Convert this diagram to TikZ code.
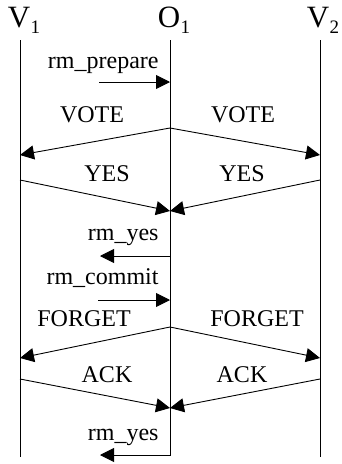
\documentclass[tikz,border=0pt]{standalone}
\usepackage{fontspec}
\setmainfont{Liberation Serif}
\usetikzlibrary{arrows.meta}

\newcommand{\lsub}[2]{#1\rlap{\kern0.5pt\raisebox{-6pt}{\fontsize{19}{19}\selectfont #2}}}

\tikzset{
  msg/.style={-{Triangle[length=14pt,width=14pt]}},
  lbl/.style={font=\fontsize{24}{28}\selectfont, inner sep=0pt},
  head/.style={font=\fontsize{31}{34}\selectfont, inner sep=0pt, anchor=base},
}

\begin{document}
\begin{tikzpicture}[x=1pt, y=-1pt, line width=0.9pt]
\useasboundingbox (0,0) rectangle (341,464);

% processes
\node[head] (v1) at (19,27) {\lsub{V}{1}};
\node[head] (o1) at (169,27) {\lsub{O}{1}};
\node[head] (v2) at (318,27) {\lsub{V}{2}};

\coordinate (v1top) at (20,40);
\coordinate (o1top) at (170,40);
\coordinate (v2top) at (320,40);
\coordinate (v1bot) at (20,457);
\coordinate (o1bot) at (170,455);
\coordinate (v2bot) at (320,457);

\draw (v1top) -- (v1bot);
\draw (v2top) -- (v2bot);

% rm_prepare
\coordinate (prep) at (99,82);
\coordinate (o1prep) at (170,82);
\draw[msg] (prep) -- (o1prep);
\node[lbl, anchor=base east] (lprep) at (159,68) {rm\_prepare};

% VOTE
\coordinate (o1vote) at (170,128);
\coordinate (v1vote) at (20,155);
\coordinate (v2vote) at (320,155);
\draw[msg] (o1vote) -- (v1vote);
\draw[msg] (o1vote) -- (v2vote);
\node[lbl, anchor=base] (lvote1) at (92,122) {VOTE};
\node[lbl, anchor=base] (lvote2) at (243,122) {VOTE};

% YES
\coordinate (v1yes) at (20,180);
\coordinate (v2yes) at (320,180);
\coordinate (o1yes) at (170,211);
\draw[msg] (v1yes) -- (o1yes);
\draw[msg] (v2yes) -- (o1yes);
\node[lbl, anchor=base] (lyes1) at (107,181) {YES};
\node[lbl, anchor=base] (lyes2) at (242,181) {YES};

% rm_yes
\coordinate (o1ryes) at (170,256);
\coordinate (ryes) at (100,256);
\draw[msg] (o1ryes) -- (ryes);
\node[lbl, anchor=base east] (lryes) at (159,240) {rm\_yes};

% rm_commit
\coordinate (commit) at (98,300);
\coordinate (o1commit) at (170,300);
\draw[msg] (commit) -- (o1commit);
\node[lbl, anchor=base east] (lcommit) at (159,284) {rm\_commit};

% FORGET
\coordinate (o1forget) at (170,327);
\coordinate (v1forget) at (20,358);
\coordinate (v2forget) at (320,358);
\draw[msg] (o1forget) -- (v1forget);
\draw[msg] (o1forget) -- (v2forget);
\node[lbl, anchor=base] (lforget1) at (84,326) {FORGET};
\node[lbl, anchor=base] (lforget2) at (257,326) {FORGET};

% ACK
\coordinate (v1ack) at (20,379);
\coordinate (v2ack) at (320,379);
\coordinate (o1ack) at (170,408);
\draw[msg] (v1ack) -- (o1ack);
\draw[msg] (v2ack) -- (o1ack);
\node[lbl, anchor=base] (lack1) at (107,382) {ACK};
\node[lbl, anchor=base] (lack2) at (242,382) {ACK};

% rm_yes, last
\coordinate (ryes2) at (100,455);
\draw[msg] (o1top) -- (o1bot) -- (ryes2);
\node[lbl, anchor=base east] (lryes2) at (159,440) {rm\_yes};

\end{tikzpicture}
\end{document}
